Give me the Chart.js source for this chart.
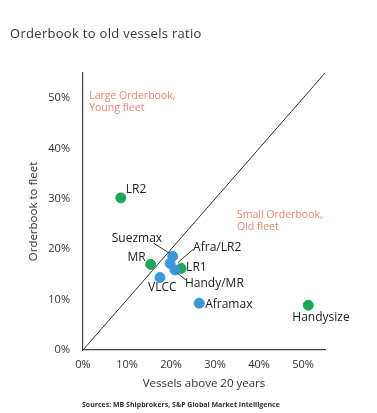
<!DOCTYPE html>
<html>
<head>
<meta charset="utf-8">
<script src="https://cdn.jsdelivr.net/npm/chart.js@4.4.1/dist/chart.umd.min.js"></script>
<style>
  html, body { margin: 0; padding: 0; background: #fff; }
  #wrap { position: relative; width: 377px; height: 413px; overflow: hidden; }
  #title { position: absolute; left: 10px; top: 24px; font-family: "Open Sans", "Noto Sans", sans-serif; font-size: 13px; font-weight: 500; color: #333; letter-spacing: 0.3px; white-space: nowrap; }
  #source { position: absolute; left: 82px; top: 400px; font-family: "Open Sans", "Noto Sans", sans-serif; font-size: 7px; font-weight: bold; color: #333; white-space: nowrap; }
  #c { position: absolute; left: 0; top: 0; }
</style>
</head>
<body>
<div id="wrap">
  <canvas id="c" width="377" height="413"></canvas>
  <div id="title">Orderbook to old vessels ratio</div>
  <div id="source">Sources: MB Shipbrokers, S&amp;P Global Market Intelligence</div>
</div>
<script>
// Data (percent)
const productNames = ["LR2", "MR", "LR1", "Handysize"];
const productX = [8.6, 15.4, 22.3, 51.2];
const productY = [30.2, 17.0, 16.2, 8.9];

const crudeNames = ["Suezmax", "Afra/LR2", "Handy/MR", "VLCC", "Aframax"];
const crudeX = [20.4, 19.8, 20.9, 17.5, 26.4];
const crudeY = [18.6, 17.2, 15.9, 14.4, 9.3];

const diagonalX = [0, 55];
const diagonalY = [0, 55];

const xTicks = [0, 10, 20, 30, 40, 50];
const yTicks = [0, 10, 20, 30, 40, 50];

const annotations = ["Large Orderbook,|Young fleet", "Small Orderbook,|Old fleet"];

// Style: label offsets in pixels (label anchor relative to point) and leader lines
const labelStyle = {
  "LR2":       { dx: 5,  dy: -8, align: "left" },
  "MR":        { dx: -5, dy: -7, align: "right" },
  "LR1":       { dx: 5,  dy: -1, align: "left" },
  "Handysize": { dx: -16, dy: 12, align: "left" },
  "Suezmax":   { dx: -61, dy: -18, align: "left", leader: [-19, -13, -3, -3] },
  "Afra/LR2":  { dx: 23, dy: -16, align: "left", leader: [23, -14, 8, -1] },
  "Handy/MR":  { dx: 10, dy: 14, align: "left", leader: [2, 3, 11, 10] },
  "VLCC":      { dx: -12, dy: 10, align: "left" },
  "Aframax":   { dx: 6,  dy: 1, align: "left" }
};
const annotationPos = [ { x: 1.4, y: 50.4 }, { x: 35, y: 26.8 } ];

const GREEN = "#1aa957";
const BLUE = "#3b96da";
const FONT = '"Open Sans", "Noto Sans", sans-serif';

const toPts = (xs, ys) => xs.map((x, i) => ({ x: x, y: ys[i] }));

const labelPlugin = {
  id: "labels",
  afterDatasetsDraw(chart) {
    const ctx = chart.ctx;
    const xs = chart.scales.x, ys = chart.scales.y;
    ctx.save();
    const draw = (names, X, Y) => {
      names.forEach((n, i) => {
        const px = xs.getPixelForValue(X[i]);
        const py = ys.getPixelForValue(Y[i]);
        const s = labelStyle[n];
        if (s.leader) {
          ctx.strokeStyle = "#333";
          ctx.lineWidth = 1;
          ctx.beginPath();
          ctx.moveTo(px + s.leader[0], py + s.leader[1]);
          ctx.lineTo(px + s.leader[2], py + s.leader[3]);
          ctx.stroke();
        }
        ctx.fillStyle = "#222";
        ctx.font = "12px " + FONT;
        ctx.textAlign = s.align;
        ctx.textBaseline = "middle";
        ctx.fillText(n, px + s.dx, py + s.dy);
      });
    };
    draw(productNames, productX, productY);
    draw(crudeNames, crudeX, crudeY);
    ctx.font = "10.5px " + FONT;
    ctx.fillStyle = "#f0836d";
    ctx.textAlign = "left";
    ctx.textBaseline = "middle";
    annotations.forEach((a, i) => {
      const px = xs.getPixelForValue(annotationPos[i].x);
      const py = ys.getPixelForValue(annotationPos[i].y);
      a.split("|").forEach((line, j) => {
        ctx.fillText(line, px, py + j * 11.5);
      });
    });
    ctx.restore();
  }
};

new Chart(document.getElementById("c"), {
  type: "scatter",
  data: {
    datasets: [
      {
        label: "diagonal",
        type: "line",
        data: toPts(diagonalX, diagonalY),
        borderColor: "#333",
        borderWidth: 1,
        pointRadius: 0,
        fill: false,
        order: 3
      },
      {
        label: "Crude",
        data: toPts(crudeX, crudeY),
        backgroundColor: BLUE,
        borderColor: BLUE,
        pointRadius: 5,
        order: 1
      },
      {
        label: "Product",
        data: toPts(productX, productY),
        backgroundColor: GREEN,
        borderColor: GREEN,
        pointRadius: 5,
        order: 1
      }
    ]
  },
  options: {
    responsive: false,
    animation: false,
    layout: { padding: { left: 27, right: 52, top: 73, bottom: 22 } },
    plugins: { legend: { display: false }, tooltip: { enabled: false }, title: { display: false } },
    scales: {
      x: {
        type: "linear",
        min: 0, max: 55,
        afterBuildTicks: (s) => { s.ticks = xTicks.map(v => ({ value: v })); },
        afterFit: (s) => { s.height = 41; },
        grid: { display: false, drawTicks: false },
        border: { display: true, color: "#444", width: 1.2 },
        ticks: { callback: v => v + "%", color: "#333", font: { family: FONT, size: 11 }, padding: 8, maxRotation: 0 },
        title: { display: true, text: "Vessels above 20 years", color: "#333", font: { family: FONT, size: 11.5 }, padding: { top: 6, bottom: 0 } }
      },
      y: {
        type: "linear",
        min: 0, max: 55,
        afterBuildTicks: (s) => { s.ticks = yTicks.map(v => ({ value: v })); },
        afterFit: (s) => { s.width = 56; },
        grid: { display: false, drawTicks: false },
        border: { display: true, color: "#444", width: 1.2 },
        ticks: { callback: v => v + "%", color: "#333", font: { family: FONT, size: 11 }, padding: 13 },
        title: { display: true, text: "Orderbook to fleet", color: "#333", font: { family: FONT, size: 11.5 }, padding: { top: 0, bottom: 0 } }
      }
    }
  },
  plugins: [labelPlugin]
});
</script>
</body>
</html>
